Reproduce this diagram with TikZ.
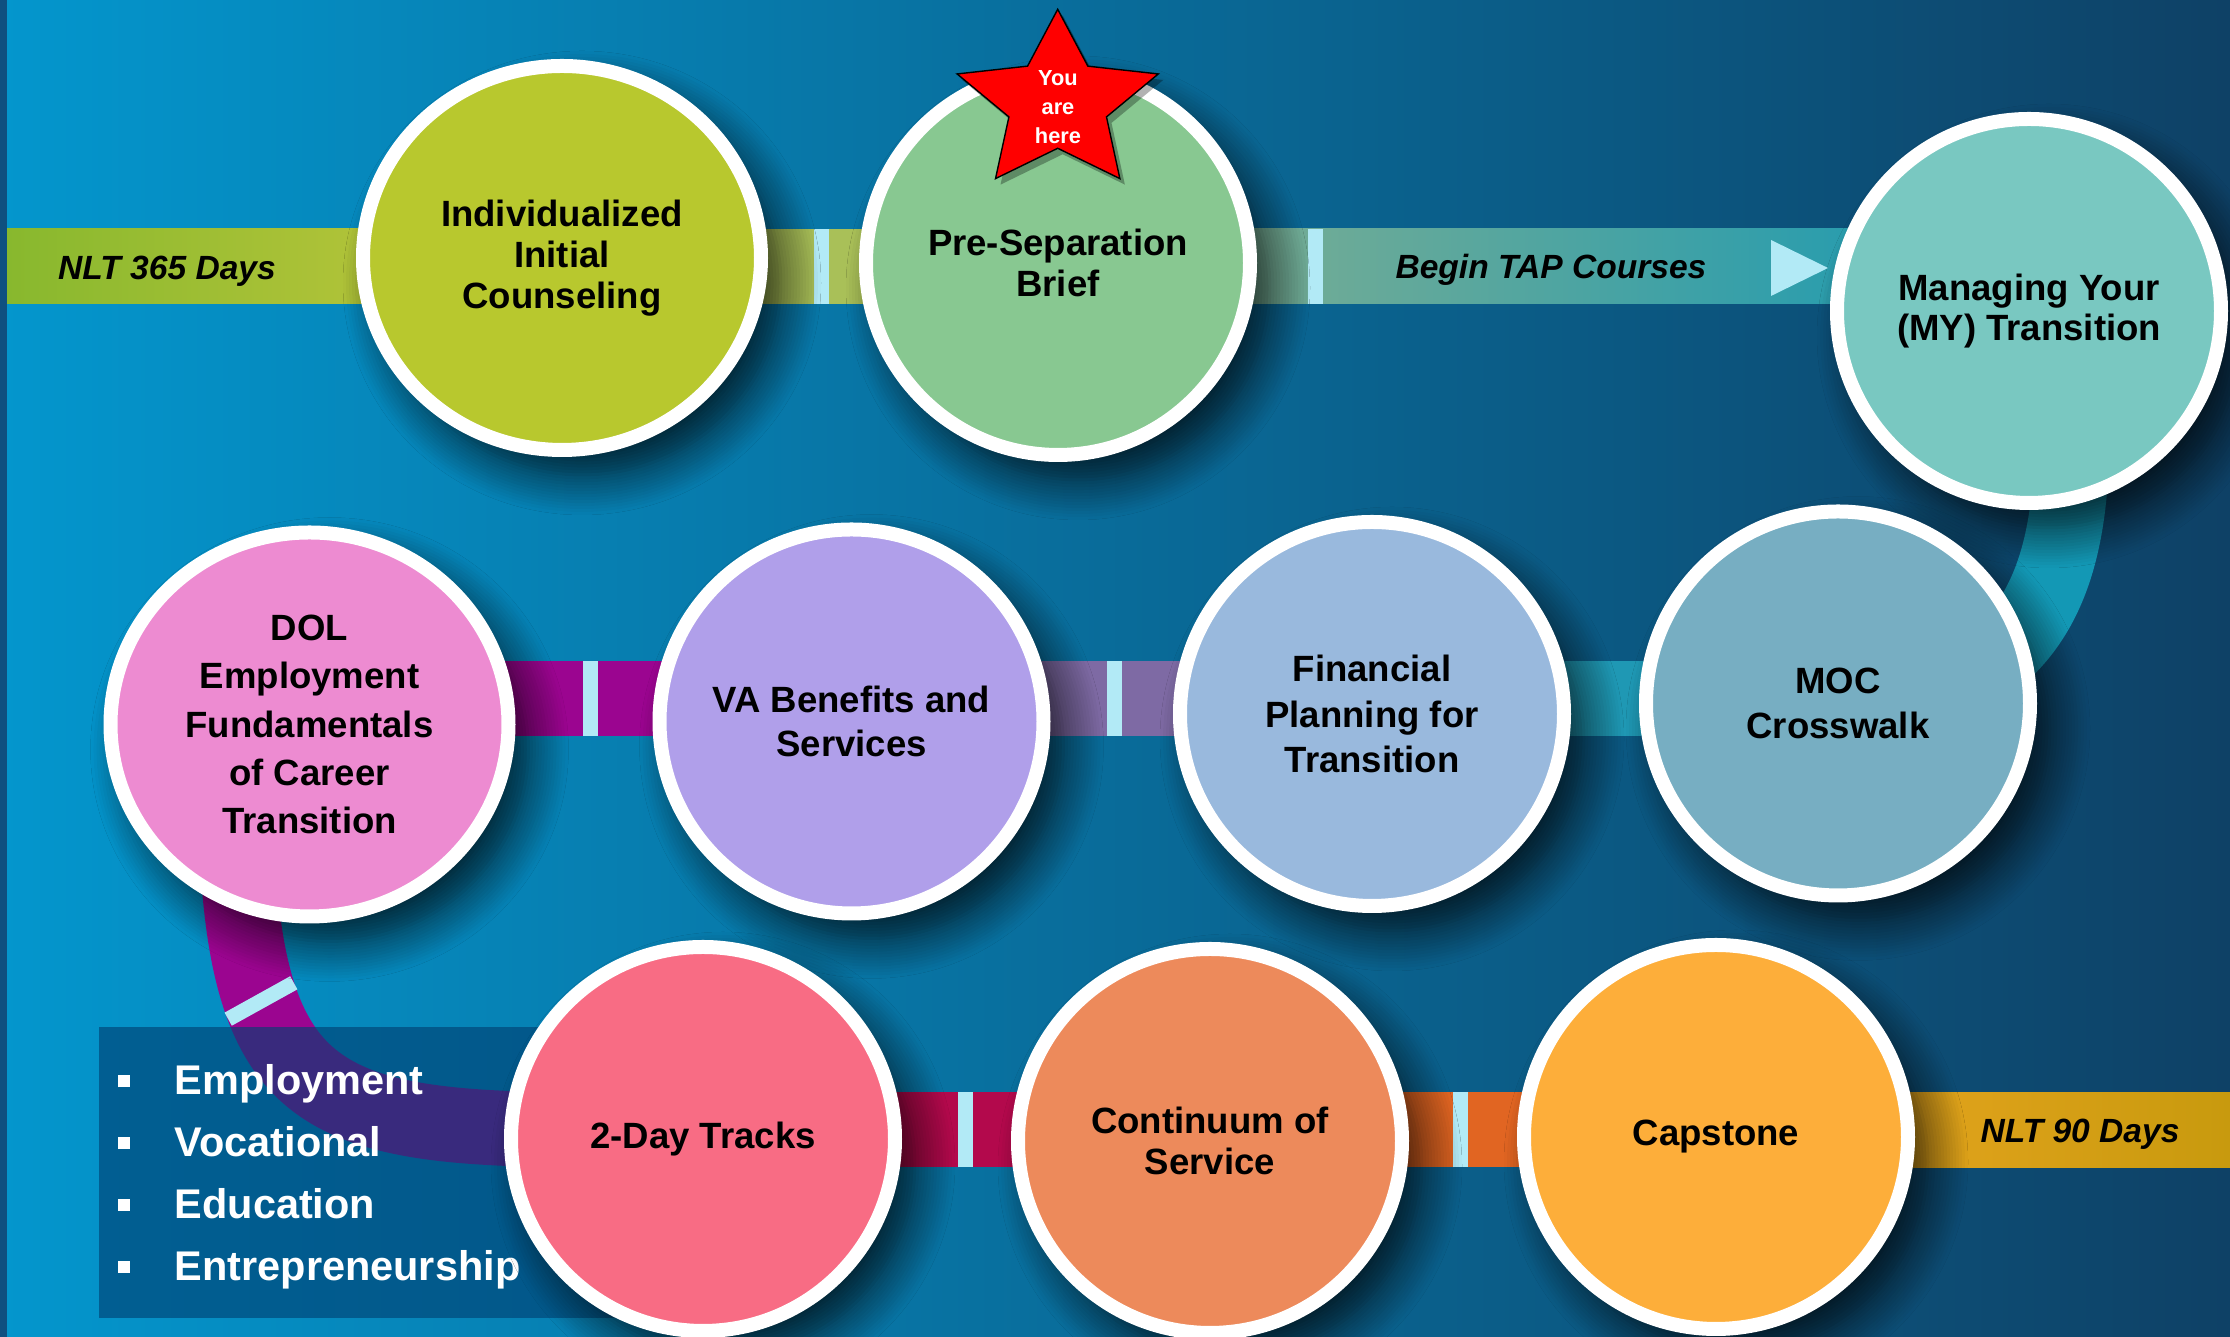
\documentclass[tikz,border=0pt]{standalone}
\usepackage{fontspec}
\setmainfont{Liberation Sans}
\usetikzlibrary{calc,shapes.geometric,shadows.blur}

\definecolor{bgleft}{HTML}{0496CD}
\definecolor{bgmid}{HTML}{066FA3}
\definecolor{bgright}{HTML}{0E4166}
\definecolor{edgeblue}{HTML}{0F5080}
\definecolor{tickblue}{HTML}{B2EAF6}
\definecolor{limeA}{HTML}{88B82E}
\definecolor{limeB}{HTML}{C6C93E}
\definecolor{oliveband}{HTML}{A9C058}
\definecolor{sageband}{HTML}{8EB28C}
\definecolor{sagemid}{HTML}{2C9AB1}
\definecolor{tealband}{HTML}{1398B5}
\definecolor{plumband}{HTML}{9B0590}
\definecolor{mauveband}{HTML}{7E6AA4}
\definecolor{aquaband}{HTML}{1F98B4}
\definecolor{crimsonband}{HTML}{B3094C}
\definecolor{orangeband}{HTML}{E16522}
\definecolor{goldA}{HTML}{F0A824}
\definecolor{goldB}{HTML}{C89A0E}
\definecolor{legendblue}{HTML}{004173}
\definecolor{indivfill}{HTML}{B8C82E}
\definecolor{presepfill}{HTML}{88C891}
\definecolor{managefill}{HTML}{79C8C1}
\definecolor{dolfill}{HTML}{ED8BD1}
\definecolor{vafill}{HTML}{B09FEA}
\definecolor{finfill}{HTML}{99B9DD}
\definecolor{mocfill}{HTML}{77AEC2}
\definecolor{twodayfill}{HTML}{F86C84}
\definecolor{contfill}{HTML}{ED8A5B}
\definecolor{capfill}{HTML}{FDAE3A}

\begin{document}
\begin{tikzpicture}[
    stepcircle/.style={circle, draw=white, line width=0.14cm, minimum size=3.84cm,
      inner sep=0pt, align=center, text=black,
      font=\bfseries\fontsize{10.4}{11.6}\selectfont,
      blur shadow={shadow xshift=0.2cm, shadow yshift=-0.25cm,
        shadow blur radius=0.4cm, shadow blur steps=14, shadow opacity=80}},
    wide/.style={ellipse, minimum width=3.98cm, minimum height=3.84cm},
    band/.style={line width=0.75cm},
    tickmark/.style={draw=tickblue, line width=0.15cm},
    bandlabel/.style={anchor=base, inner sep=0pt, text=black,
      font=\bfseries\itshape\fontsize{9.55}{11}\selectfont},
    legitem/.style={anchor=base west, inner sep=0pt, text=white,
      font=\bfseries\fontsize{11.8}{13}\selectfont},
    herestar/.style={fill=red, draw=black, line width=0.4pt},
    heretext/.style={align=center, inner sep=0pt, text=white,
      font=\bfseries\fontsize{6.2}{8.25}\selectfont},
  ]
    \useasboundingbox (0,0) rectangle (22.30,13.37);

    % Rows of the bands
    \coordinate (rowA) at (0,10.705);
    \coordinate (rowB) at (0,6.385);
    \coordinate (rowC) at (0,2.07);

    % Centres of the steps
    \coordinate (indiv) at (5.62,10.79);
    \coordinate (presep) at (10.58,10.74);
    \coordinate (manage) at (20.29,10.26);
    \coordinate (dol) at (3.095,6.125);
    \coordinate (vabenefit) at (8.515,6.155);
    \coordinate (finplan) at (13.72,6.23);
    \coordinate (moc) at (18.38,6.335);
    \coordinate (twoday) at (7.03,1.98);
    \coordinate (contserv) at (12.10,1.96);
    \coordinate (capstone) at (17.16,2.00);

    % Background
    \shade[left color=bgleft, middle color=bgmid, right color=bgright] (0,0) rectangle (22.30,13.37);
    \fill[edgeblue] (0,0) rectangle (0.07,13.37);

    % Top row bands
    \shade[left color=limeA, right color=limeB] ($(rowA)+(0.07,-0.375)$) rectangle ($(indiv |- rowA)+(0,0.375)$);
    \draw[band, draw=oliveband] (indiv |- rowA) -- (presep |- rowA);
    \shade[left color=sageband, middle color=sagemid, right color=tealband] ($(presep |- rowA)+(0,-0.375)$) rectangle ($(manage |- rowA)+(0,0.375)$);
    \fill[tickblue] (17.71,10.97) -- (18.28,10.69) -- (17.71,10.41) -- cycle;

    % Turn down to the middle row
    \draw[band, draw=tealband] ([xshift=0.36cm]manage) .. controls +(0.2,-2.1) and +(1.7,0.4) .. ([xshift=0.62cm]moc);

    % Middle row bands
    \draw[band, draw=plumband] (dol |- rowB) -- (vabenefit |- rowB);
    \draw[band, draw=mauveband] (vabenefit |- rowB) -- (finplan |- rowB);
    \draw[band, draw=aquaband] (finplan |- rowB) -- (moc |- rowB);

    % Turn down to the bottom row
    \draw[band, draw=plumband] (twoday |- rowC) -- ++(-1.03,0) .. controls +(-3.0,0) and +(0,-3.4) .. ++(-3.65,3.7) |- (dol);

    % Bottom row bands
    \draw[band, draw=crimsonband] (twoday |- rowC) -- (contserv |- rowC);
    \draw[band, draw=orangeband] (contserv |- rowC) -- (capstone |- rowC);
    \shade[left color=goldA, right color=goldB] ($(capstone |- rowC)+(0,-0.375)$) rectangle ($(rowC)+(22.30,0.375)$);

    % Ticks
    \foreach \p/\q/\f/\w in {indiv/presep/0.524/rowA, presep/manage/0.265/rowA,
        dol/vabenefit/0.518/rowB, vabenefit/finplan/0.506/rowB,
        twoday/contserv/0.517/rowC, contserv/capstone/0.496/rowC}
      \draw[tickmark] ($(\p |- \w)!\f!(\q |- \w)$) +(0,-0.375) -- +(0,0.375);
    \draw[tickmark] (2.61,3.36) +(209:0.375) -- +(29:0.375);

    % Legend box
    \fill[legendblue, fill opacity=0.63] (0.99,0.19) rectangle (6.40,3.10);

    % Band labels
    \node[bandlabel] (nlt365) at (1.67,10.57) {NLT 365 Days};
    \node[bandlabel] (begintap) at (15.51,10.58) {Begin TAP Courses};
    \node[bandlabel] (nlt90) at (20.80,1.94) {NLT 90 Days};

    % Legend
    \foreach \lbl [count=\i] in {Employment, Vocational, Education, Entrepreneurship}
      \node[legitem] (leg\i) at (1.17,{2.42-0.617*(\i-1)}) {\rule[0.075cm]{0.12cm}{0.12cm}\hspace{0.45cm}\lbl};

    % Steps, top row
    \node[stepcircle, wide, fill=indivfill] (indiv) at (indiv) {Individualized\\Initial\\Counseling};
    \node[stepcircle, fill=presepfill] (presep) at (presep) {Pre-Separation\\Brief};
    \node[stepcircle, fill=managefill] (manage) at (manage) {Managing Your\\(MY) Transition};

    % Steps, middle row
    \node[stepcircle, wide, fill=dolfill, font=\bfseries\fontsize{10.4}{13.7}\selectfont] (dol) at (dol) {DOL\\Employment\\Fundamentals\\of Career\\Transition};
    \node[stepcircle, fill=vafill, font=\bfseries\fontsize{10.4}{12.6}\selectfont] (vabenefit) at (vabenefit) {VA Benefits and\\Services};
    \node[stepcircle, fill=finfill, font=\bfseries\fontsize{10.4}{12.9}\selectfont] (finplan) at (finplan) {Financial\\Planning for\\Transition};
    \node[stepcircle, fill=mocfill, font=\bfseries\fontsize{10.4}{12.6}\selectfont] (moc) at (moc) {MOC\\Crosswalk};

    % Steps, bottom row
    \node[stepcircle, fill=twodayfill] (twoday) at (twoday) {2-Day Tracks};
    \node[stepcircle, fill=contfill] (contserv) at (contserv) {Continuum of\\Service};
    \node[stepcircle, fill=capfill] (capstone) at (capstone) {Capstone};

    % You are here
    \coordinate (here) at (10.577,12.341);
    \begin{scope}[shift={($(here)+(0.05,-0.06)$)}, xscale=1.13]
      \fill[black, opacity=0.3] (90:0.936) \foreach \a in {0,...,4} {-- ({126+72*\a}:0.454) -- ({162+72*\a}:0.936)} -- cycle;
    \end{scope}
    \begin{scope}[shift={(here)}, xscale=1.13]
      \filldraw[herestar] (90:0.936) \foreach \a in {0,...,4} {-- ({126+72*\a}:0.454) -- ({162+72*\a}:0.936)} -- cycle;
    \end{scope}
    \node[heretext] (herelbl) at (10.58,12.30) {You\\are\\here};
\end{tikzpicture}
\end{document}
